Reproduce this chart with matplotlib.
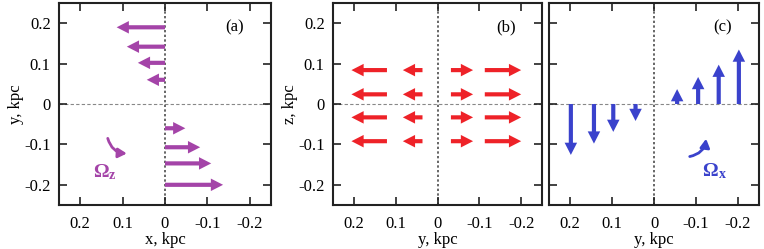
import matplotlib
matplotlib.use("Agg")
import matplotlib.pyplot as plt

plt.rcParams['font.family'] = ['Liberation Serif', 'DejaVu Serif']

# ticks
tick_vals = [0.2, 0.1, 0.0, -0.1, -0.2]
tick_labels = ["0.2", "0.1", "0", "-0.1", "-0.2"]

# panel (a): horizontal arrows from x = 0
a_y = [0.19, 0.142, 0.102, 0.06, -0.06, -0.107, -0.147, -0.2]
a_len = [0.114, 0.09, 0.064, 0.043, -0.048, -0.083, -0.109, -0.137]

# panel (b): rows of horizontal arrows (start, end)
b_z = [0.084, 0.024, -0.033, -0.092]
b_start = [0.121, 0.036, -0.032, -0.113]
b_end = [0.206, 0.083, -0.085, -0.2]

# panel (c): vertical arrows from z = 0
c_y = [0.198, 0.143, 0.097, 0.044, -0.055, -0.105, -0.154, -0.202]
c_len = [-0.126, -0.098, -0.069, -0.042, 0.037, 0.067, 0.0975, 0.135]

PURPLE = "#a444a8"
RED = "#ee2228"
BLUE = "#3a42cc"


def arrow(ax, x0, y0, x1, y1, color):
    ax.annotate("", xy=(x1, y1), xytext=(x0, y0),
                arrowprops=dict(arrowstyle="simple,head_width=0.9,head_length=0.88,tail_width=0.3",
                                mutation_scale=10, color=color, lw=0,
                                shrinkA=0, shrinkB=0), zorder=3)


def setup(ax, ylabel, xlabel, show_y=True):
    ax.set_xlim(0.25, -0.25)
    ax.set_ylim(-0.25, 0.25)
    ax.set_xticks(tick_vals)
    ax.set_xticklabels(tick_labels)
    ax.set_yticks(tick_vals)
    if show_y:
        ax.set_yticklabels(tick_labels)
    else:
        ax.set_yticklabels([])
    ax.tick_params(direction="in", length=6, width=1.2, top=True, right=True,
                   labelsize=12, colors="#222222", labelcolor="black")
    ax.tick_params(axis="x", pad=8)
    ax.tick_params(axis="y", pad=6)
    for s in ax.spines.values():
        s.set_linewidth(1.5)
        s.set_color("#222222")
    ax.axhline(0, color="#888888", lw=0.8, ls=(0, (3, 2)), zorder=1)
    ax.axvline(0, color="#666666", lw=1.4, ls=(0, (1.2, 1.2)), zorder=1)
    ax.set_xlabel(xlabel, fontsize=12, labelpad=0)
    if ylabel:
        ax.set_ylabel(ylabel, fontsize=12, labelpad=0)


fig = plt.figure(figsize=(7.64, 2.49), dpi=100)
ax_a = fig.add_axes([0.0772, 0.1767, 0.2775, 0.811])
ax_b = fig.add_axes([0.4359, 0.1767, 0.2736, 0.811])
ax_c = fig.add_axes([0.7186, 0.1767, 0.2749, 0.811])

setup(ax_a, "y, kpc", "x, kpc")
setup(ax_b, "z, kpc", "y, kpc")
setup(ax_c, None, "y, kpc", show_y=False)

for y, L in zip(a_y, a_len):
    arrow(ax_a, 0, y, L, y, PURPLE)
for z in b_z:
    for s, e in zip(b_start, b_end):
        arrow(ax_b, s, z, e, z, RED)
for y, L in zip(c_y, c_len):
    arrow(ax_c, y, 0, y, L, BLUE)

# rotation symbols
ax_a.annotate("", xy=(0.09, -0.1225), xytext=(0.135, -0.085),
              arrowprops=dict(arrowstyle="-|>,head_width=0.28,head_length=0.5",
                              connectionstyle="arc3,rad=0.35", color=PURPLE, lw=2,
                              shrinkA=0, shrinkB=0))
ax_a.text(0.152, -0.169, "Ω", color=PURPLE, fontsize=14, fontweight="bold",
          ha="center", va="center")
ax_a.text(0.125, -0.178, "z", color=PURPLE, fontsize=10, fontweight="bold",
          ha="center", va="center")

ax_c.annotate("", xy=(-0.124, -0.086), xytext=(-0.085, -0.13),
              arrowprops=dict(arrowstyle="-|>,head_width=0.28,head_length=0.5",
                              connectionstyle="arc3,rad=0.35", color=BLUE, lw=2,
                              shrinkA=0, shrinkB=0))
ax_c.text(-0.134, -0.1675, "Ω", color=BLUE, fontsize=14, fontweight="bold",
          ha="center", va="center")
ax_c.text(-0.164, -0.175, "x", color=BLUE, fontsize=10, fontweight="bold",
          ha="center", va="center")

for ax, lab in [(ax_a, "(a)"), (ax_b, "(b)"), (ax_c, "(c)")]:
    ax.text(-0.163, 0.19, lab, fontsize=12, ha="center", va="center")

fig.savefig("out.png", dpi=100)
